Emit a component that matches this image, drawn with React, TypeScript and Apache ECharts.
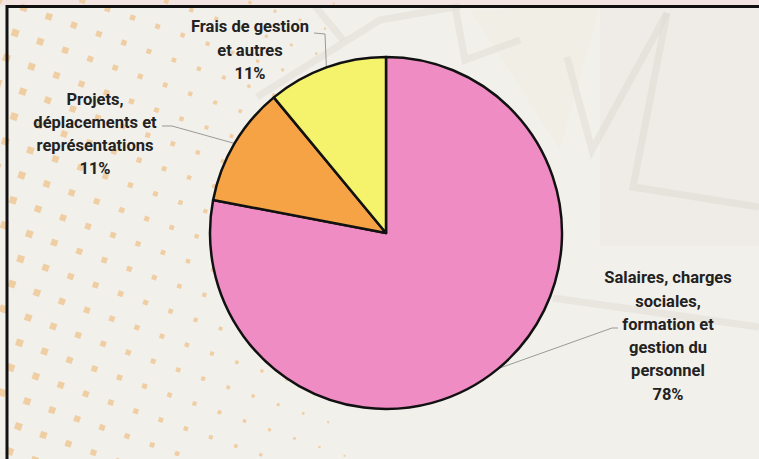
import React, { useEffect, useRef } from "react";
import * as echarts from "echarts";

const categories = [
  "Salaires, charges\nsociales,\nformation et\ngestion du\npersonnel",
  "Projets,\ndéplacements et\nreprésentations",
  "Frais de gestion\net autres",
];
const values = [78, 11, 11];
const colors = ["#ef8cc3", "#f6a345", "#f5f36b"];

// label layout (positions only)
const labelCenters = [
  [668, 336],
  [95, 134],
  [250, 50],
];
const leaderBends = [
  [[612, 328], [618, 328]],
  [[172, 126], [162, 126]],
  [[325, 34], [314, 33]],
];

function buildDots() {
  const out: any[] = [];
  const x0 = 29.3, y0 = 234;
  for (let i = -30; i <= 30; i++) {
    for (let j = -30; j <= 30; j++) {
      const x = x0 + i * 25 - j * 8.7;
      const y = y0 + i * 8.7 + j * 25;
      if (x < -5 || x > 360 || y < -5 || y > 465) continue;
      const s = 7.4 - x * 0.016;
      if (s < 1.8) continue;
      out.push({
        type: "rect",
        x,
        y,
        rotation: -0.33,
        shape: { x: -s / 2, y: -s / 2, width: s, height: s },
        style: { fill: "#f0cea4" },
        silent: true,
        z: 1,
      });
    }
  }
  return out;
}

export default function App() {
  const ref = useRef<HTMLDivElement>(null);
  useEffect(() => {
    if (!ref.current) return;
    const chart = echarts.init(ref.current, null, { renderer: "svg" });
    const lineStyle = { stroke: "rgba(222,220,212,0.5)", lineWidth: 7, fill: null };
    const option: any = {
      animation: false,
      backgroundColor: "#f2f0eb",
      graphic: [
        { type: "rect", shape: { x: 0, y: 0, width: 759, height: 6 }, style: { fill: "#f3e4e2" }, z: 0, silent: true },
        { type: "rect", shape: { x: 600, y: 6, width: 159, height: 240 }, style: { fill: "#efebe6" }, z: 0, silent: true },
        { type: "polygon", shape: { points: [[470, 10], [600, 6], [560, 150]] }, style: { fill: "rgba(240,238,225,0.6)" }, z: 0, silent: true },
        { type: "polyline", shape: { points: [[567, 57], [592, 150], [667, 13]] }, style: lineStyle, z: 0, silent: true },
        { type: "polyline", shape: { points: [[667, 13], [633, 187], [759, 207]] }, style: lineStyle, z: 0, silent: true },
        { type: "line", shape: { x1: 553, y1: 298, x2: 759, y2: 327 }, style: lineStyle, z: 0, silent: true },
        { type: "polyline", shape: { points: [[257, 97], [380, 20], [460, 6]] }, style: lineStyle, z: 0, silent: true },
        { type: "line", shape: { x1: 315, y1: 6, x2: 343, y2: 40 }, style: lineStyle, z: 0, silent: true },
        { type: "polyline", shape: { points: [[455, 6], [465, 60], [520, 40]] }, style: lineStyle, z: 0, silent: true },
        ...buildDots(),
        {
          type: "rect",
          shape: { x: 7, y: 6.5, width: 800, height: 500 },
          style: { fill: null, stroke: "#111", lineWidth: 3 },
          z: 5,
          silent: true,
        },
      ],
      series: [
        {
          type: "pie",
          center: [386, 233],
          radius: 176,
          startAngle: 90,
          clockwise: true,
          z: 3,
          itemStyle: { borderColor: "#111", borderWidth: 2.5 },
          data: categories.map((name, i) => ({
            name,
            value: values[i],
            itemStyle: { color: colors[i] },
          })),
          label: {
            show: true,
            position: "outside",
            formatter: (p: any) => `${p.name}\n${p.value}%`,
            fontFamily: "Roboto",
            fontWeight: "bold",
            fontSize: 16.5,
            lineHeight: 23.3,
            color: "#222",
            align: "center",
          },
          labelLine: {
            show: true,
            length: 20,
            length2: 10,
            lineStyle: { color: "#9a9a9a", width: 1 },
          },
          labelLayout: (params: any) => {
            const i = params.dataIndex;
            const start = params.labelLinePoints ? params.labelLinePoints[0] : null;
            const res: any = {
              x: labelCenters[i][0],
              y: labelCenters[i][1],
              align: "center",
              verticalAlign: "middle",
            };
            if (start) res.labelLinePoints = [start, leaderBends[i][0], leaderBends[i][1]];
            return res;
          },
        },
      ],
    };
    chart.setOption(option);
    return () => chart.dispose();
  }, []);
  return (
    <div
      ref={ref}
      style={{ position: "fixed", left: 0, top: 0, width: 759, height: 459 }}
    />
  );
}
